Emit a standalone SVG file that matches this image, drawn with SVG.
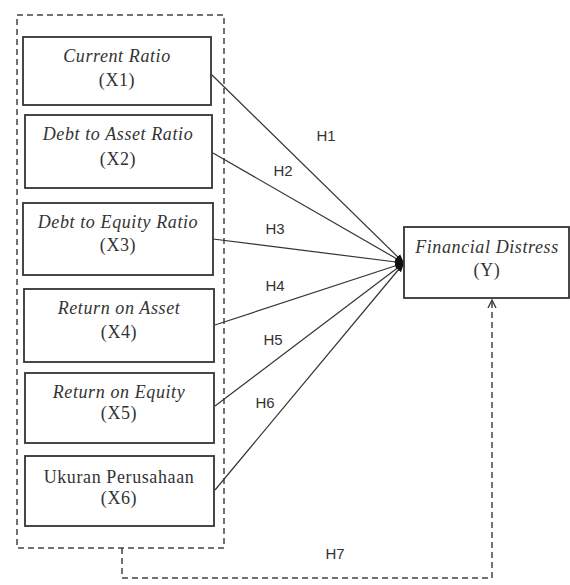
<svg xmlns="http://www.w3.org/2000/svg" width="570" height="585" viewBox="0 0 570 585">
  <defs>
    <marker id="arrowFill" viewBox="0 0 10 10" refX="10" refY="5" markerWidth="9" markerHeight="9" orient="auto" markerUnits="userSpaceOnUse">
      <path d="M0,1 L10,5 L0,9 z" fill="#111"/>
    </marker>
    <marker id="arrowOpen" viewBox="0 0 10 10" refX="9" refY="5" markerWidth="10" markerHeight="10" orient="auto" markerUnits="userSpaceOnUse">
      <path d="M1,1 L9,5 L1,9" fill="none" stroke="#333" stroke-width="1.3"/>
    </marker>
    <style>
      .box { fill: #fff; stroke: #333; stroke-width: 1.8; }
      .lbl { font-family: "Liberation Serif", "Times New Roman", serif; font-size: 18px; letter-spacing: 0.6px; fill: #333; text-anchor: middle; }
      .it { font-style: italic; }
      .h { font-family: "Liberation Sans", Arial, sans-serif; font-size: 15px; fill: #333; text-anchor: middle; }
      .edge { stroke: #333; stroke-width: 1.2; fill: none; }
      .dash { stroke: #444; stroke-width: 1.5; fill: none; stroke-dasharray: 6 4; }
    </style>
  </defs>

  <!-- independent-variable group outline -->
  <rect class="dash" x="17" y="15" width="207" height="533"/>

  <g id="connectors">
    <line class="edge" x1="212" y1="75" x2="404" y2="263" marker-end="url(#arrowFill)"/>
    <line class="edge" x1="213" y1="153" x2="404" y2="263" marker-end="url(#arrowFill)"/>
    <line class="edge" x1="213" y1="239" x2="404" y2="263" marker-end="url(#arrowFill)"/>
    <line class="edge" x1="215" y1="325" x2="404" y2="263" marker-end="url(#arrowFill)"/>
    <line class="edge" x1="215" y1="406" x2="404" y2="263" marker-end="url(#arrowFill)"/>
    <line class="edge" x1="215" y1="490" x2="404" y2="263" marker-end="url(#arrowFill)"/>
    <path class="dash" d="M122,548 L122,578 L492,578 L492,300" marker-end="url(#arrowOpen)"/>
    <text class="h" x="326" y="141">H1</text>
    <text class="h" x="283" y="176">H2</text>
    <text class="h" x="275" y="234">H3</text>
    <text class="h" x="275" y="291">H4</text>
    <text class="h" x="273" y="345">H5</text>
    <text class="h" x="265" y="408">H6</text>
    <text class="h" x="335" y="559">H7</text>
  </g>

  <g id="x1">
    <rect class="box" x="23" y="37" width="188" height="68"/>
    <text class="lbl it" x="117" y="62">Current Ratio</text>
    <text class="lbl" x="117" y="86">(X1)</text>
  </g>
  <g id="x2">
    <rect class="box" x="25" y="115" width="187" height="73"/>
    <text class="lbl it" x="118" y="140">Debt to Asset Ratio</text>
    <text class="lbl" x="118" y="165">(X2)</text>
  </g>
  <g id="x3">
    <rect class="box" x="23" y="203" width="190" height="72"/>
    <text class="lbl it" x="118" y="228">Debt to Equity Ratio</text>
    <text class="lbl" x="118" y="251">(X3)</text>
  </g>
  <g id="x4">
    <rect class="box" x="24" y="289" width="190" height="73"/>
    <text class="lbl it" x="119" y="314">Return on Asset</text>
    <text class="lbl" x="119" y="338">(X4)</text>
  </g>
  <g id="x5">
    <rect class="box" x="25" y="373" width="189" height="70"/>
    <text class="lbl it" x="119" y="398">Return on Equity</text>
    <text class="lbl" x="119" y="419">(X5)</text>
  </g>
  <g id="x6">
    <rect class="box" x="25" y="456" width="189" height="70"/>
    <text class="lbl" x="119" y="483">Ukuran Perusahaan</text>
    <text class="lbl" x="119" y="504">(X6)</text>
  </g>
  <g id="y">
    <rect class="box" x="404" y="227" width="165" height="71"/>
    <text class="lbl it" x="487" y="253">Financial Distress</text>
    <text class="lbl" x="487" y="276">(Y)</text>
  </g>
</svg>
